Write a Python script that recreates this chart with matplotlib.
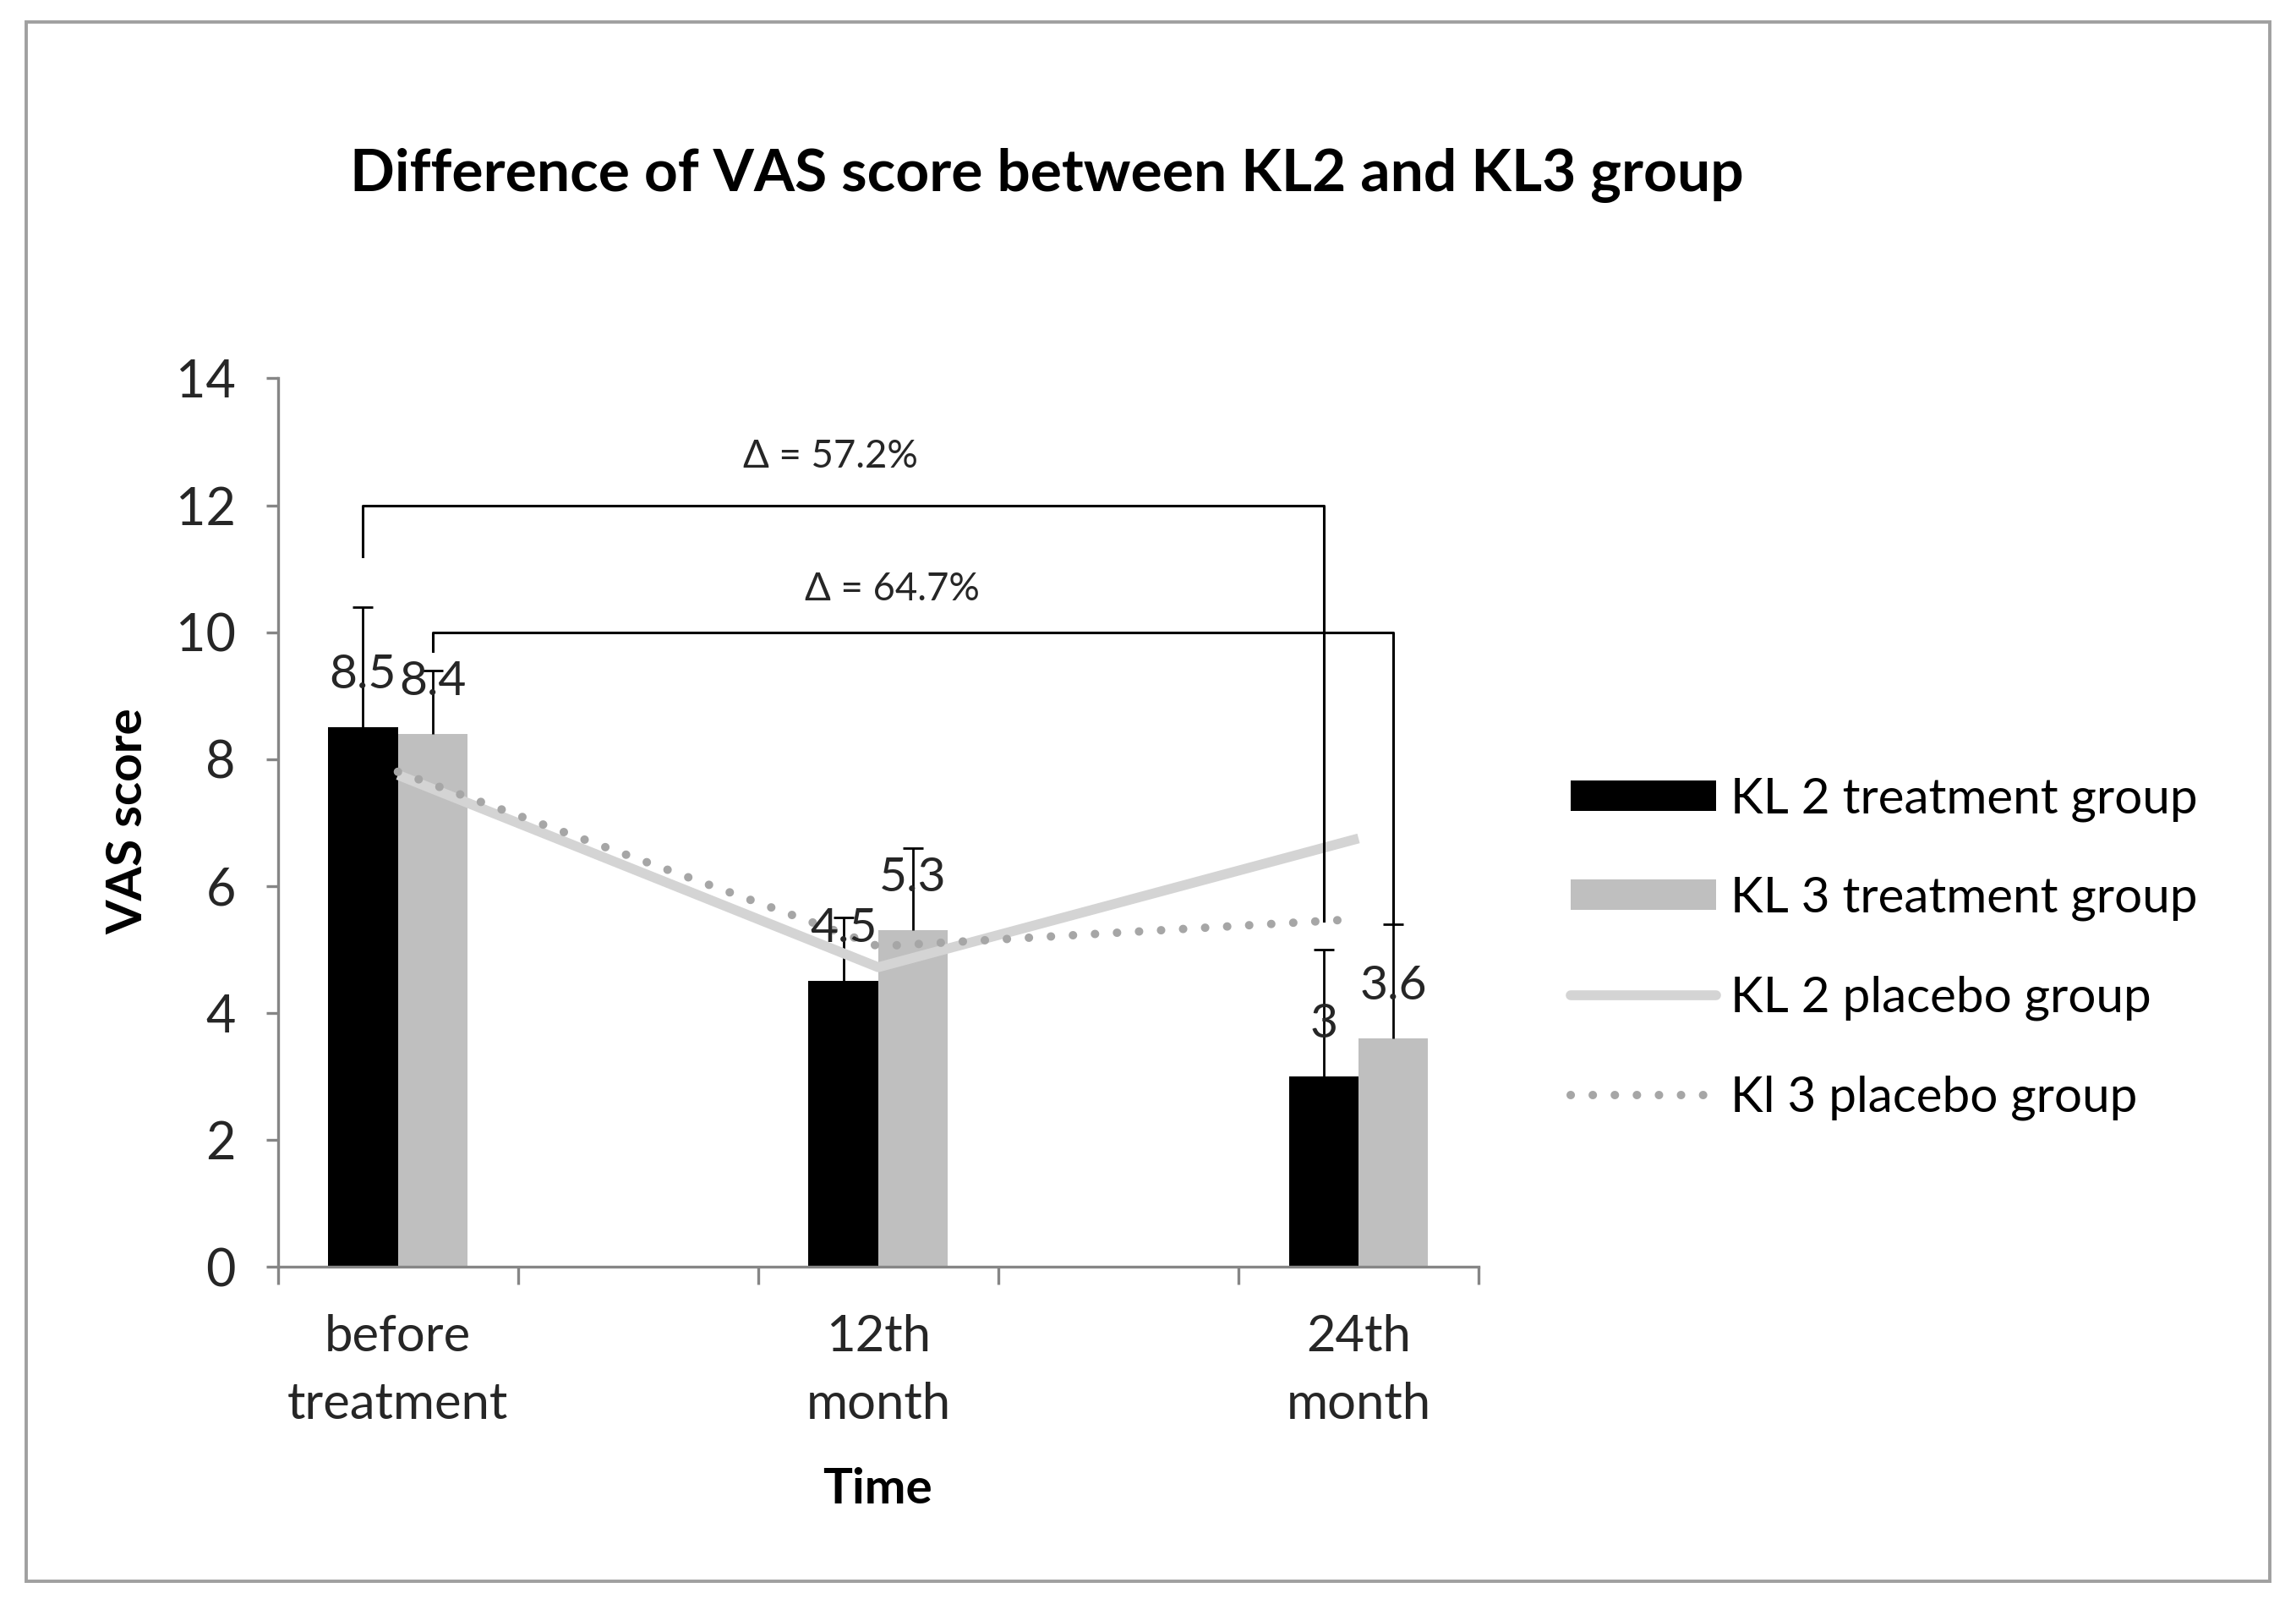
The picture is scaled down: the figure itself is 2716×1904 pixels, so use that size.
import numpy as np
import matplotlib
matplotlib.use("Agg")
import matplotlib.pyplot as plt
from matplotlib.patches import Patch, Rectangle
from matplotlib.lines import Line2D

plt.rcParams['font.family'] = ['Lato', 'DejaVu Sans']

# data
categories = ["before\ntreatment", "", "12th\nmonth", "", "24th\nmonth"]
time_pos = [0, 2, 4]
kl2_treat = [8.5, 4.5, 3.0]
kl3_treat = [8.4, 5.3, 3.6]
kl2_err = [1.9, 1.0, 2.0]
kl3_err = [1.0, 1.3, 1.8]
kl2_placebo = [7.75, 4.72, 6.75]
kl3_placebo = [7.8, 5.05, 5.48]
bar_labels_kl2 = ["8.5", "4.5", "3"]
bar_labels_kl3 = ["8.4", "5.3", "3.6"]
legend_labels = ["KL 2 treatment group", "KL 3 treatment group",
                 "KL 2 placebo group", "Kl 3 placebo group"]

c_black = "#000000"
c_gray = "#bfbfbf"
c_line = "#d4d4d4"
c_dot = "#a6a6a6"
c_axis = "#868686"
c_text = "#262626"

fig = plt.figure(figsize=(13.58, 9.52), dpi=200)
ax = fig.add_axes([0.121, 0.2132, 0.523, 0.5518])

x = np.array(time_pos, dtype=float)
w = 0.29
ax.bar(x - w / 2, kl2_treat, w, color=c_black, zorder=2)
ax.bar(x + w / 2, kl3_treat, w, color=c_gray, zorder=2)
for xs, vals, errs in [(x - w / 2, kl2_treat, kl2_err), (x + w / 2, kl3_treat, kl3_err)]:
    eb = ax.errorbar(xs, vals, yerr=[np.zeros(3), errs], fmt="none",
                     ecolor="black", elinewidth=1.0, capsize=4.3, capthick=1.0, zorder=3)
    eb[1][0].set_visible(False)  # only the upper cap

ax.plot(x, kl2_placebo, color=c_line, lw=4.2, solid_capstyle="butt", zorder=4)
ax.plot(x, kl3_placebo, color=c_dot, lw=3.6, linestyle=(0, (0.01, 2.6)),
        dash_capstyle="round", zorder=4)

for xi, v, s in zip(x - w / 2, kl2_treat, bar_labels_kl2):
    ax.text(xi, v + 0.82, s, ha="center", va="center", fontsize=20.5, color=c_text, zorder=5)
for xi, v, s in zip(x + w / 2, kl3_treat, bar_labels_kl3):
    ax.text(xi, v + 0.82, s, ha="center", va="center", fontsize=20.5, color=c_text, zorder=5)

# significance brackets
ax.plot([x[0] - w / 2, x[0] - w / 2, x[2] - w / 2, x[2] - w / 2],
        [11.2, 12.0, 12.0, 5.45], color="black", lw=1.1, zorder=5)
ax.plot([x[0] + w / 2, x[0] + w / 2, x[2] + w / 2, x[2] + w / 2],
        [9.7, 10.0, 10.0, kl3_treat[2] + kl3_err[2]], color="black", lw=1.1, zorder=5)
ax.text(1.8, 12.76, "Δ = 57.2%", ha="center", va="center", fontsize=16.4, color=c_text)
ax.text(2.06, 10.68, "Δ = 64.7%", ha="center", va="center", fontsize=16.4, color=c_text)

ax.set_xlim(-0.5, 4.5)
ax.set_ylim(0, 14)
ax.set_yticks(np.arange(0, 15, 2))
ax.set_xticks(np.arange(-0.5, 5, 1.0))
ax.set_xticklabels([])
ax.set_xticks(np.arange(0, 5, 1), minor=True)
ax.set_xticklabels(categories, minor=True, fontsize=21.5, color=c_text, linespacing=1.6)
ax.tick_params(axis="x", which="minor", length=0, pad=20)
ax.tick_params(axis="x", which="major", length=7.5, width=1.2, color=c_axis, direction="out")
ax.tick_params(axis="y", length=5, width=1.2, color=c_axis, labelsize=22,
               labelcolor=c_text, pad=13)
for side in ["top", "right"]:
    ax.spines[side].set_visible(False)
for side in ["left", "bottom"]:
    ax.spines[side].set_color(c_axis)
    ax.spines[side].set_linewidth(1.2)

fig.text(0.456, 0.891, "Difference of VAS score between KL2 and KL3 group",
         ha="center", va="center", fontsize=25, fontweight="bold", color="black")
fig.text(0.056, 0.49, "VAS score", rotation=90, ha="center", va="center",
         fontsize=21, fontweight="bold", color="black")
fig.text(0.382, 0.075, "Time", ha="center", va="center",
         fontsize=21, fontweight="bold", color="black")

handles = [Patch(facecolor=c_black), Patch(facecolor=c_gray),
           Line2D([], [], color=c_line, lw=4.2, solid_capstyle="round"),
           Line2D([], [], color=c_dot, lw=3.6, linestyle=(0, (0.01, 2.6)),
                  dash_capstyle="round")]
fig.legend(handles, legend_labels, loc="center left", bbox_to_anchor=(0.684, 0.411),
           frameon=False, fontsize=21, handlelength=2.95, handleheight=0.57,
           handletextpad=0.3, labelspacing=1.1, borderpad=0, borderaxespad=0)

fig.add_artist(Rectangle((0.0114, 0.0179), 0.9772, 0.9684, transform=fig.transFigure,
                         fill=False, edgecolor="#a0a0a0", lw=1.4))

fig.savefig("out.png", dpi=200, facecolor="white")
